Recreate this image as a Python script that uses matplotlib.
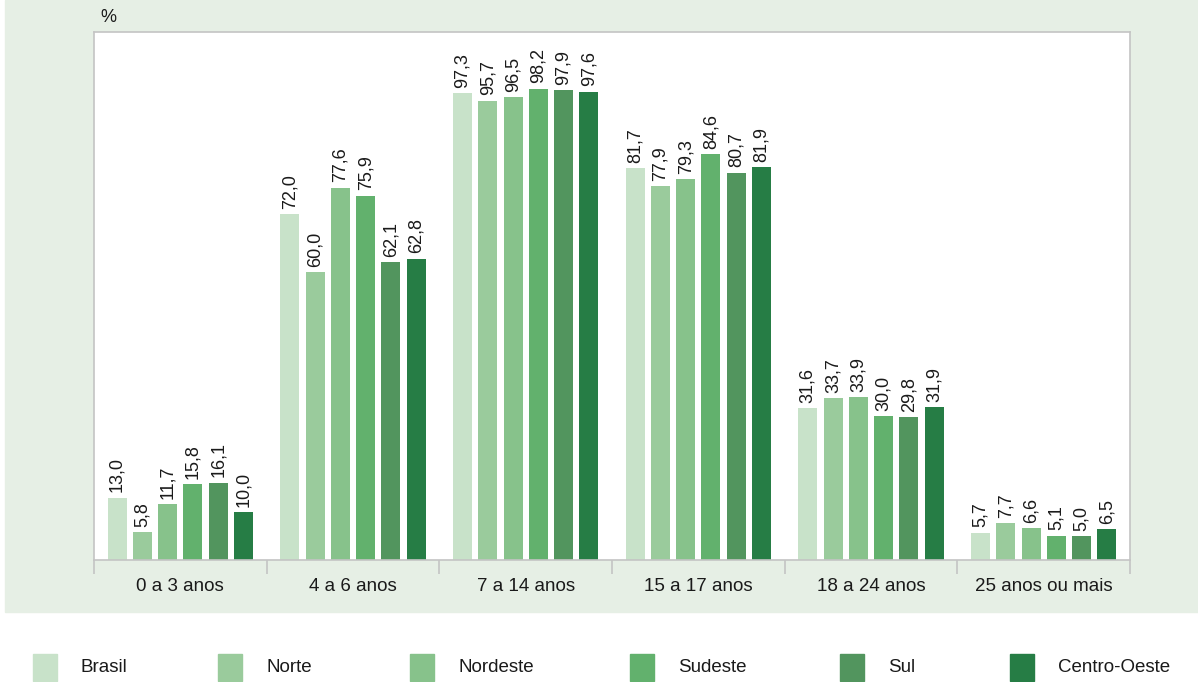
import numpy as np
import matplotlib.pyplot as plt
from matplotlib.patches import Rectangle

plt.rcParams['font.family'] = ['Liberation Sans', 'DejaVu Sans']

grupos = ['0 a 3 anos', '4 a 6 anos', '7 a 14 anos', '15 a 17 anos', '18 a 24 anos', '25 anos ou mais']
regioes = ['Brasil', 'Norte', 'Nordeste', 'Sudeste', 'Sul', 'Centro-Oeste']
brasil = [13.0, 72.0, 97.3, 81.7, 31.6, 5.7]
norte = [5.8, 60.0, 95.7, 77.9, 33.7, 7.7]
nordeste = [11.7, 77.6, 96.5, 79.3, 33.9, 6.6]
sudeste = [15.8, 75.9, 98.2, 84.6, 30.0, 5.1]
sul = [16.1, 62.1, 97.9, 80.7, 29.8, 5.0]
centro_oeste = [10.0, 62.8, 97.6, 81.9, 31.9, 6.5]
series = [brasil, norte, nordeste, sudeste, sul, centro_oeste]
cores = ['#c8e2c9', '#9acb9c', '#87c28b', '#62b16d', '#52955e', '#267d45']

W, H = 1198, 682
fig = plt.figure(figsize=(W / 100, H / 100), dpi=100)
fig.patches.append(Rectangle((5 / W, 1 - 612 / H), 1 - 5 / W, 612 / H,
                             transform=fig.transFigure, color='#e6efe5', zorder=0))

ax = fig.add_axes([94 / W, 1 - 560 / H, (1130 - 94) / W, (560 - 32) / H])
ax.set_facecolor('white')
ax.set_zorder(1)

x = np.arange(len(grupos))
step = 0.1465
width = 0.11
for i, (vals, cor) in enumerate(zip(series, cores)):
    pos = x + (i - 2.5) * step
    ax.bar(pos, vals, width=width, color=cor, zorder=2)
    for p, v in zip(pos, vals):
        ax.text(p, v + 1.1, f'{v:.1f}'.replace('.', ','), rotation=90, ha='center', va='bottom',
                fontsize=13, color='#1a1a1a')

ax.set_xlim(-0.5, len(grupos) - 0.5)
ax.set_ylim(0, 110)
ax.set_yticks([])
for s in ['left', 'right', 'top', 'bottom']:
    ax.spines[s].set_color('#c4c4c4')
    ax.spines[s].set_linewidth(1.2)
ax.set_xticks(np.arange(len(grupos) + 1) - 0.5, minor=False)
ax.set_xticklabels([])
ax.tick_params(axis='x', length=10, color='#c4c4c4', width=1.2)
ax.set_xticks(x, minor=True)
ax.set_xticklabels(grupos, minor=True, fontsize=13.5, color='#1a1a1a')
ax.tick_params(axis='x', which='minor', length=0, pad=13)

fig.text(100 / W, 1 - 18 / H, '%', fontsize=13, color='#1a1a1a', va='center', ha='left')

# legenda
leg_x = [33, 218, 410, 630, 840, 1010]
for lx, nome, cor in zip(leg_x, regioes, cores):
    fig.patches.append(Rectangle((lx / W, 1 - 681 / H), 24 / W, 27 / H,
                                 transform=fig.transFigure, color=cor))
    fig.text((lx + 48) / W, 1 - 667 / H, nome, fontsize=13.5, color='#1a1a1a', va='center', ha='left')

fig.savefig('out.png', dpi=100)
